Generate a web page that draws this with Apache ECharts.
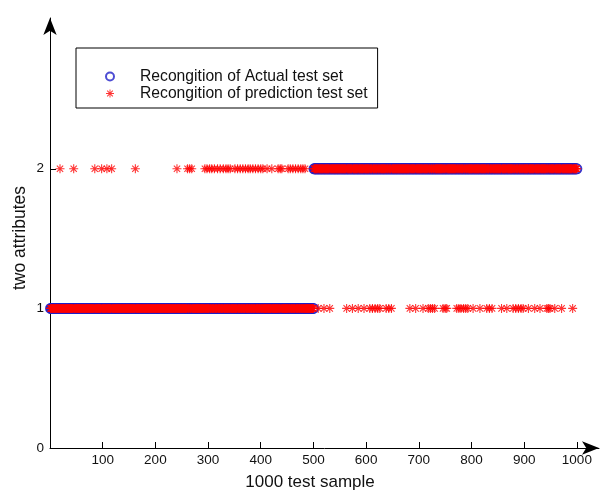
<!DOCTYPE html>
<html>
<head>
<meta charset="utf-8">
<script src="https://cdn.jsdelivr.net/npm/echarts@6/dist/echarts.min.js"></script>
<style>html,body{margin:0;padding:0;background:#fff;}#c{width:610px;height:495px;}</style>
</head>
<body>
<div id="c"></div>
<script>
// ---- data ----
const seriesNames = ['Recongition of Actual test set', 'Recongition of prediction test set'];
// actual class labels as runs: [first sample, last sample, class]
const actualRuns = [[1, 500, 1], [501, 1000, 2]];
// samples whose prediction differs from the actual class
const predictedAs2 = [19, 45, 85, 98, 108, 117, 162, 241, 261, 265, 269,
  294, 298, 303, 307, 312, 318, 323, 329, 334, 338, 342,
  351, 356, 361, 366, 371, 376, 380, 385, 390, 395, 400, 404,
  412, 421, 433, 437, 440, 452, 456, 461, 466, 471, 476, 480, 484];
const predictedAs1 = [509, 520, 531, 563, 574, 585, 596, 607, 612, 617, 622, 626,
  638, 643, 648, 683, 694, 708, 718, 722, 726, 730, 746, 750, 753,
  772, 776, 780, 785, 789, 793, 803, 816, 829, 834, 839, 857, 867,
  879, 884, 889, 894, 898, 908, 920, 930, 943, 946, 949, 958, 971, 992];
const xTickLabels = [100, 200, 300, 400, 500, 600, 700, 800, 900, 1000];
const yTickLabels = [0, 1, 2];
const xTitle = '1000 test sample';
const yTitle = 'two attributes';

// ---- build series ----
const actualData = [];
actualRuns.forEach(function (r) {
  for (let i = r[0]; i <= r[1]; i++) actualData.push([i, r[2]]);
});
const set2 = new Set(predictedAs2), set1 = new Set(predictedAs1);
const predData = actualData.map(function (p) {
  let c = p[1];
  if (set2.has(p[0])) c = 2;
  if (set1.has(p[0])) c = 1;
  return [p[0], c];
});

const FONT = "'Liberation Sans', Arial, sans-serif";
const starPath = 'path://M0 8.8L20 8.8L20 11.2L0 11.2Z M8.8 0L11.2 0L11.2 20L8.8 20Z M2.15 3.85L3.85 2.15L17.85 16.15L16.15 17.85Z M16.15 2.15L17.85 3.85L3.85 17.85L2.15 16.15Z';
const plain = function (v) { return String(v); };

const chart = echarts.init(document.getElementById('c'));
chart.setOption({
  backgroundColor: '#fff',
  animation: false,
  grid: { left: 50, right: 11, top: 18, bottom: 47, containLabel: false },
  legend: {
    orient: 'vertical',
    left: 76, top: 48,
    padding: [20, 10, 6, 29],
    itemGap: 0,
    itemWidth: 30, itemHeight: 8,
    borderColor: '#000', borderWidth: 1, borderRadius: 0,
    backgroundColor: '#fff',
    selectedMode: false,
    textStyle: { fontFamily: FONT, fontSize: 15.7, color: '#111', lineHeight: 17, padding: [0, 0, 0, 10] },
    data: seriesNames
  },
  xAxis: {
    type: 'value', min: 0, max: 1042, interval: 100,
    splitLine: { show: false },
    axisLine: { lineStyle: { color: '#000', width: 1 }, symbol: ['none', 'arrow'], symbolSize: [10, 17] },
    axisTick: { inside: true, length: 6, lineStyle: { color: '#000' }, customValues: xTickLabels },
    axisLabel: { customValues: xTickLabels, formatter: plain, fontFamily: FONT, fontSize: 13.5, color: '#111', margin: 5 }
  },
  yAxis: {
    type: 'value', min: 0, max: 3.08, interval: 1,
    splitLine: { show: false },
    axisLine: { lineStyle: { color: '#000', width: 1 }, symbol: ['none', 'arrow'], symbolSize: [10, 17] },
    axisTick: { inside: true, length: 6, lineStyle: { color: '#000' }, customValues: yTickLabels },
    axisLabel: { customValues: yTickLabels, formatter: plain, fontFamily: FONT, fontSize: 13.5, color: '#111', margin: 6 }
  },
  graphic: [
    { type: 'text', x: 310, y: 482, style: { text: xTitle, font: '17px ' + FONT, fill: '#111', textAlign: 'center', textVerticalAlign: 'middle' } },
    { type: 'text', x: 20, y: 238, rotation: Math.PI / 2, style: { text: yTitle, font: '17.5px ' + FONT, fill: '#111', textAlign: 'center', textVerticalAlign: 'middle' } }
  ],
  series: [
    {
      name: seriesNames[0], type: 'scatter', data: actualData,
      symbol: 'emptyCircle', symbolSize: 9,
      itemStyle: { color: '#2020c8', borderColor: '#2020c8', borderWidth: 1 },
      z: 2
    },
    {
      name: seriesNames[1], type: 'scatter', data: predData,
      symbol: starPath, symbolSize: 9, symbolKeepAspect: true,
      itemStyle: { color: '#ff0000' },
      z: 3
    }
  ]
});
</script>
</body>
</html>
